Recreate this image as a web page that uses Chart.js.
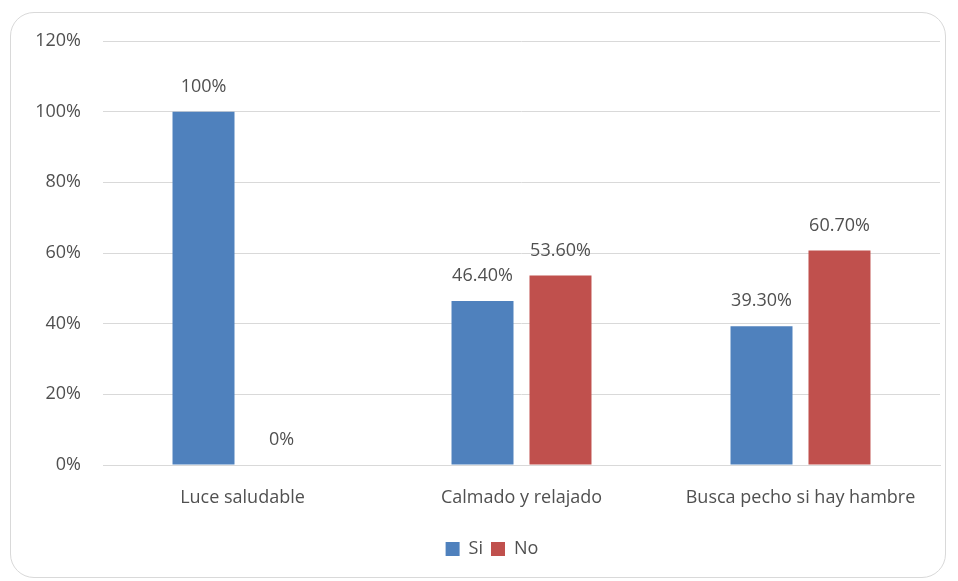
<!DOCTYPE html>
<html><head><meta charset="utf-8">
<script src="https://cdn.jsdelivr.net/npm/chart.js@4"></script>
<style>
html,body{margin:0;padding:0;background:#fff;}
#wrap{position:absolute;left:10px;top:12px;width:936px;height:566px;border:1.5px solid #d9d9d9;border-radius:24px;box-sizing:border-box;}
#c{position:absolute;left:0;top:0;}
</style></head>
<body>
<div id="wrap"></div>
<canvas id="c" width="958" height="581"></canvas>
<script>
const categories = ["Luce saludable", "Calmado y relajado", "Busca pecho si hay hambre"];
const siValues = [100, 46.4, 39.3];
const noValues = [0, 53.6, 60.7];
const siLabels = ["100%", "46.40%", "39.30%"];
const noLabels = ["0%", "53.60%", "60.70%"];
const seriesNames = ["Si", "No"];

const FONT = "'Open Sans', 'Liberation Sans', sans-serif";
const TXT = '#505050';
const labelPlugin = {
  id: 'vlabels',
  afterDatasetsDraw(chart) {
    const ctx = chart.ctx;
    ctx.save();
    ctx.font = "18px " + FONT;
    ctx.fillStyle = TXT;
    ctx.textAlign = "center";
    ctx.textBaseline = "middle";
    const lbls = [siLabels, noLabels];
    chart.data.datasets.forEach((ds, di) => {
      chart.getDatasetMeta(di).data.forEach((bar, i) => {
        ctx.fillText(lbls[di][i], bar.x, bar.y - 25);
      });
    });
    ctx.restore();
  }
};
const legendShift = {
  id: 'legendShift',
  afterLayout(chart) {
    if (chart.legend) { chart.legend.left += 22; chart.legend.right += 22; }
  }
};

new Chart(document.getElementById('c'), {
  type: 'bar',
  data: {
    labels: categories,
    datasets: [
      { label: seriesNames[0], data: siValues, backgroundColor: '#4F81BD' },
      { label: seriesNames[1], data: noValues, backgroundColor: '#C0504D' }
    ]
  },
  options: {
    responsive: false,
    animation: false,
    devicePixelRatio: 1,
    layout: { padding: { left: 0, right: 18, top: 41, bottom: 13 } },
    plugins: {
      legend: {
        position: 'bottom',
        labels: { font: { size: 18, family: FONT }, color: TXT, boxWidth: 14, boxHeight: 14, padding: 8 }
      },
      tooltip: { enabled: false }
    },
    datasets: { bar: { categoryPercentage: 0.559, barPercentage: 0.795 } },
    scales: {
      x: {
        grid: { display: false },
        border: { color: '#d9d9d9' },
        ticks: { font: { size: 18, family: FONT }, color: TXT, padding: 14 },
        afterFit(s) { s.height = 67; }
      },
      y: {
        min: 0, max: 120,
        ticks: { stepSize: 20, callback: v => v + '%', font: { size: 18, family: FONT }, color: TXT, padding: 22 },
        grid: { color: '#d9d9d9', drawTicks: false },
        border: { display: false },
        afterFit(s) { s.width = 103; }
      }
    }
  },
  plugins: [labelPlugin, legendShift]
});
</script>
</body></html>
